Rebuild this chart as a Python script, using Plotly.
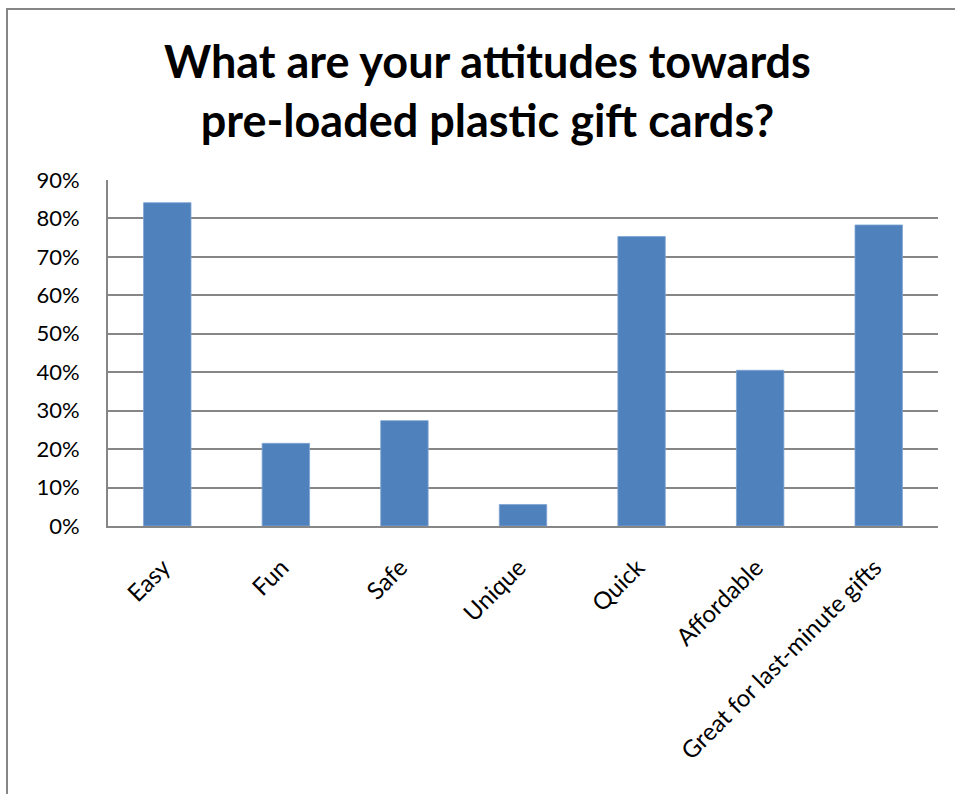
import plotly.graph_objects as go

# Survey responses: share of respondents agreeing with each attribute
categories = ["Easy", "Fun", "Safe", "Unique", "Quick", "Affordable",
              "Great for last-minute gifts"]
shares = [0.841, 0.215, 0.274, 0.056, 0.753, 0.405, 0.783]

y_ticks = [0.0, 0.1, 0.2, 0.3, 0.4, 0.5, 0.6, 0.7, 0.8, 0.9]
y_tick_labels = ["0%", "10%", "20%", "30%", "40%", "50%", "60%", "70%", "80%", "90%"]

title_text = "What are your attitudes towards<br>pre-loaded plastic gift cards?"

W, H = 955, 794
ML, MR, MT, MB = 108, 17, 180, 268
PW, PH = W - ML - MR, H - MT - MB

GRID = "#868686"
FONT = "Lato, 'Open Sans', sans-serif"


def px_x(p):
    return (p - ML) / PW


def px_y(p):
    return (H - MB - p) / PH


fig = go.Figure(
    go.Bar(
        x=categories,
        y=shares,
        marker=dict(color="#4F81BD", line=dict(color="#7FA3D3", width=0.8)),
        hoverinfo="x+y",
    )
)

fig.update_layout(
    width=W,
    height=H,
    margin=dict(l=ML, r=MR, t=MT, b=MB, pad=0),
    paper_bgcolor="white",
    plot_bgcolor="white",
    bargap=0.6,
    showlegend=False,
    font=dict(family=FONT, color="#000000"),
    xaxis=dict(
        type="category",
        tickangle=-45,
        tickfont=dict(size=24, family=FONT, color="#000000"),
        showgrid=False,
        showline=True,
        linecolor=GRID,
        linewidth=2,
        ticks="",
        ticklabelstandoff=16,
        ticklabelshift=-4,
    ),
    yaxis=dict(
        range=[0, 0.9],
        tickvals=y_ticks,
        ticktext=y_tick_labels,
        tickfont=dict(size=22, family=FONT, color="#000000"),
        showgrid=True,
        gridcolor=GRID,
        gridwidth=1.5,
        showline=True,
        linecolor=GRID,
        linewidth=2,
        zeroline=False,
        ticks="",
        ticklabelstandoff=22,
    ),
    annotations=[
        dict(
            text="<b>" + title_text + "</b>",
            xref="paper", yref="paper",
            x=px_x(487), y=px_y(90),
            xanchor="center", yanchor="middle",
            showarrow=False,
            align="center",
            font=dict(size=45, family=FONT, color="#000000"),
        )
    ],
    shapes=[
        # outer chart frame (extends past the visible window on the right and bottom)
        dict(
            type="rect", xref="paper", yref="paper",
            x0=px_x(7), x1=px_x(W + 40),
            y0=px_y(H + 40), y1=px_y(9),
            line=dict(color=GRID, width=2),
            fillcolor="rgba(0,0,0,0)",
            layer="below",
        )
    ],
)

fig.write_html("out.html")
